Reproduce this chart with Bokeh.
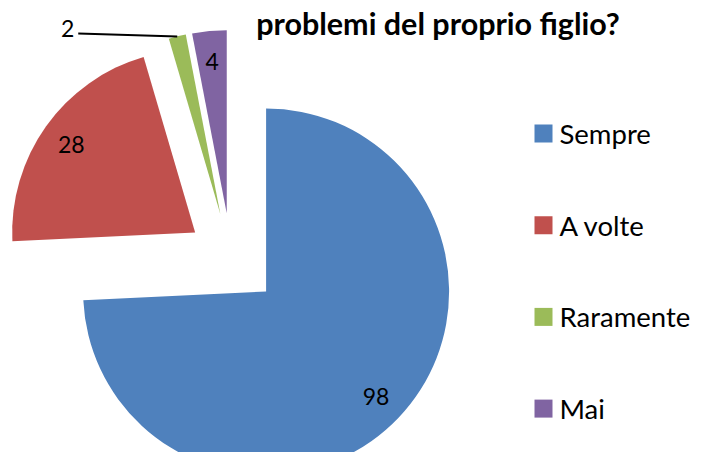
import numpy as np
from bokeh.plotting import figure
from bokeh.models import Range1d
from bokeh.core.properties import value
from bokeh.embed import file_html
from bokeh.resources import INLINE

# ---- data ----
categories = ["Sempre", "A volte", "Raramente", "Mai"]
counts = [98, 28, 2, 4]
colors = ["#4F81BD", "#C0504D", "#9BBB59", "#8064A2"]
title_text = "problemi del proprio figlio?"

# ---- layout (pixel units) ----
W, H = 695, 452
def sy(y):  # top-down pixel -> data y
    return H - y

FONT = "Lato"
center = (230.5, 257.5)
radius = 183
explode = [48.5, 44, 45, 45]
label_dist = 152

p = figure(width=W, height=H, x_range=Range1d(0, W), y_range=Range1d(0, H),
           output_backend="svg", toolbar_location=None, min_border=0)
p.axis.visible = False
p.grid.visible = False
p.outline_line_color = None
p.background_fill_color = "white"
p.border_fill_color = "white"

vals = np.array(counts, dtype=float)
frac = vals / vals.sum()
cum_end = np.cumsum(frac)
cum_start = cum_end - frac

cx, cy = center[0], sy(center[1])
for i, cat in enumerate(categories):
    a0 = cum_start[i] * 2 * np.pi
    a1 = cum_end[i] * 2 * np.pi
    start = np.pi / 2 - a1
    end = np.pi / 2 - a0
    mid = np.pi / 2 - (a0 + a1) / 2
    vx = cx + explode[i] * np.cos(mid)
    vy = cy + explode[i] * np.sin(mid)
    p.wedge(x=vx, y=vy, radius=radius, start_angle=start, end_angle=end,
            direction="anticlock", fill_color=colors[i], line_color=None)
    if frac[i] > 0.02:
        lx = vx + label_dist * np.cos(mid)
        ly = vy + label_dist * np.sin(mid)
        p.text(x=[lx], y=[ly], text=[str(counts[i])], text_align="center",
               text_baseline="middle", text_font=value(FONT),
               text_font_size="23px", text_color="black")
    else:
        ax = vx + radius * np.cos(mid)
        ay = vy + radius * np.sin(mid)
        ex, ey = ax - 99, ay + 3
        p.line(x=[ax, ex], y=[ay, ey], line_color="black", line_width=2)
        p.text(x=[ex - 4], y=[ey + 5], text=[str(counts[i])], text_align="right",
               text_baseline="middle", text_font=value(FONT),
               text_font_size="23px", text_color="black")

# legend (manual)
leg_x = 543
leg_y0 = 133
leg_step = 91.7
for i, cat in enumerate(categories):
    y = sy(leg_y0 + i * leg_step)
    p.scatter(x=[leg_x], y=[y], marker="square", size=18, fill_color=colors[i],
              line_color=None)
    p.text(x=[leg_x + 16], y=[y], text=[cat], text_align="left", text_baseline="middle",
           text_font=value(FONT), text_font_size="27.5px", text_color="black")

# title (second line visible)
p.text(x=[437.5], y=[sy(22)], text=[title_text], text_align="center",
       text_baseline="alphabetic", text_font=value(FONT), text_font_style="bold",
       text_font_size="30.5px", text_color="black")

open("out.html", "w").write(file_html(p, INLINE))
